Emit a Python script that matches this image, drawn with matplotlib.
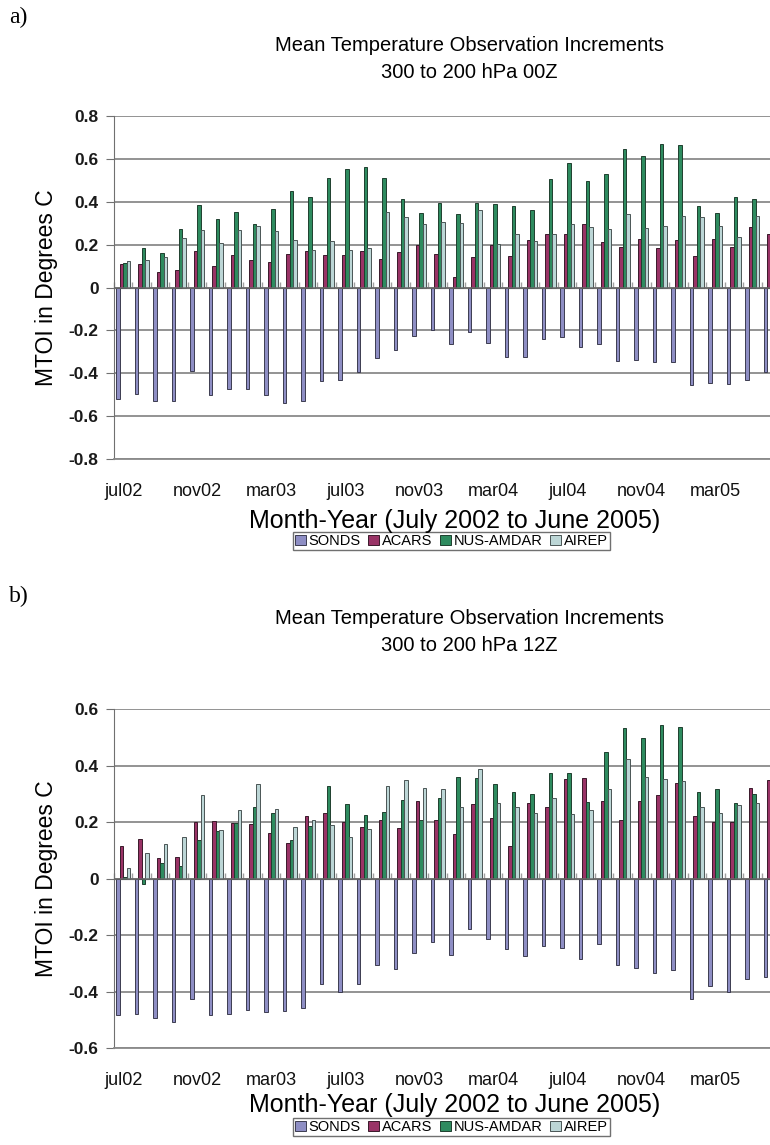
import matplotlib
matplotlib.use("Agg")
import matplotlib.pyplot as plt
import numpy as np

plt.rcParams['font.family'] = ['Liberation Sans', 'DejaVu Sans']

## Data (July 2002 .. June 2005)
months = ['jul02', 'aug02', 'sep02', 'oct02', 'nov02', 'dec02', 'jan03', 'feb03', 'mar03',
          'apr03', 'may03', 'jun03', 'jul03', 'aug03', 'sep03', 'oct03', 'nov03', 'dec03',
          'jan04', 'feb04', 'mar04', 'apr04', 'may04', 'jun04', 'jul04', 'aug04', 'sep04',
          'oct04', 'nov04', 'dec04', 'jan05', 'feb05', 'mar05', 'apr05', 'may05', 'jun05']
series = ['SONDS', 'ACARS', 'NUS-AMDAR', 'AIREP']

# panel a) 00Z
sonds_00 = [-0.52, -0.495, -0.53, -0.53, -0.388, -0.50, -0.473, -0.473, -0.50,
            -0.54, -0.53, -0.437, -0.43, -0.395, -0.33, -0.29, -0.228, -0.20,
            -0.264, -0.209, -0.257, -0.326, -0.326, -0.24, -0.231, -0.279, -0.264,
            -0.344, -0.336, -0.349, -0.349, -0.453, -0.445, -0.45, -0.433, -0.394]
acars_00 = [0.11, 0.108, 0.073, 0.08, 0.172, 0.098, 0.153, 0.127, 0.12,
            0.157, 0.169, 0.15, 0.153, 0.169, 0.132, 0.166, 0.197, 0.154,
            0.047, 0.14, 0.197, 0.147, 0.222, 0.251, 0.251, 0.296, 0.212,
            0.191, 0.228, 0.186, 0.222, 0.147, 0.228, 0.188, 0.284, 0.248]
amdar_00 = [0.116, 0.186, 0.16, 0.274, 0.385, 0.318, 0.352, 0.295, 0.366,
            0.451, 0.42, 0.509, 0.553, 0.563, 0.509, 0.414, 0.346, 0.395,
            0.343, 0.395, 0.388, 0.378, 0.361, 0.507, 0.58, 0.495, 0.529,
            0.647, 0.614, 0.667, 0.662, 0.38, 0.349, 0.42, 0.412, 0.465]
airep_00 = [0.122, 0.127, 0.14, 0.231, 0.268, 0.209, 0.268, 0.288, 0.265,
            0.222, 0.177, 0.217, 0.174, 0.183, 0.352, 0.327, 0.296, 0.305,
            0.299, 0.361, 0.205, 0.251, 0.219, 0.251, 0.296, 0.282, 0.274,
            0.341, 0.278, 0.285, 0.332, 0.329, 0.287, 0.237, 0.335, 0.33]

# panel b) 12Z
sonds_12 = [-0.484, -0.48, -0.492, -0.509, -0.425, -0.482, -0.48, -0.465, -0.474,
            -0.468, -0.459, -0.372, -0.401, -0.374, -0.306, -0.319, -0.265, -0.225,
            -0.272, -0.178, -0.215, -0.248, -0.274, -0.239, -0.245, -0.284, -0.233,
            -0.307, -0.315, -0.335, -0.325, -0.427, -0.38, -0.401, -0.354, -0.348]
acars_12 = [0.114, 0.14, 0.073, 0.078, 0.199, 0.204, 0.196, 0.193, 0.162,
            0.126, 0.22, 0.232, 0.202, 0.182, 0.206, 0.18, 0.276, 0.206,
            0.158, 0.265, 0.214, 0.116, 0.267, 0.252, 0.352, 0.355, 0.275,
            0.208, 0.275, 0.296, 0.34, 0.222, 0.20, 0.20, 0.322, 0.349]
amdar_12 = [0.005, -0.021, 0.055, 0.046, 0.138, 0.169, 0.196, 0.254, 0.232,
            0.135, 0.187, 0.328, 0.264, 0.226, 0.234, 0.278, 0.208, 0.286,
            0.359, 0.355, 0.334, 0.308, 0.298, 0.374, 0.374, 0.271, 0.447,
            0.534, 0.499, 0.542, 0.536, 0.305, 0.316, 0.267, 0.299, 0.367]
airep_12 = [0.038, 0.09, 0.122, 0.147, 0.295, 0.173, 0.244, 0.335, 0.248,
            0.181, 0.209, 0.191, 0.147, 0.175, 0.328, 0.349, 0.319, 0.316,
            0.252, 0.387, 0.267, 0.252, 0.232, 0.286, 0.229, 0.244, 0.318,
            0.422, 0.359, 0.353, 0.347, 0.252, 0.232, 0.261, 0.267, 0.33]

fills = ['#8e8ec4', '#993366', '#2e8b5f', '#bcd6d6']
edges = ['#3c3c50', '#3a1a2a', '#1f3f2f', '#4a5555']

fig = plt.figure(figsize=(7.7, 11.45), dpi=100)


def panel(rect, data, lim, ticks, title, tag, tag_y, title_y, lab_y, leg_y):
    ax = fig.add_axes(rect)
    x = np.arange(len(months))
    w = 0.19
    for k, vals in enumerate(data):
        ax.bar(x + (k - 1.5) * w, vals, w, color=fills[k], edgecolor=edges[k],
               linewidth=0.7, label=series[k], zorder=3)
    ax.set_xlim(-0.5, len(months) - 0.5)
    ax.set_ylim(-lim, lim)
    ax.set_yticks(ticks)
    ax.set_yticklabels(['%.1f' % t if t != 0 else '0' for t in ticks],
                       fontsize=12.5, fontweight='bold', color='#1a1a1a')
    ax.grid(axis='y', color='#8a8a8a', linewidth=1.3, zorder=0)
    for s in ['top', 'right']:
        ax.spines[s].set_visible(False)
    ax.spines['left'].set_color('#707070')
    ax.spines['bottom'].set_color('#8a8a8a')
    ax.spines['bottom'].set_linewidth(1.3)
    ax.tick_params(axis='y', direction='out', length=6, color='#707070', pad=5)
    ax.set_xticks(x[::4])
    ax.set_xticklabels(months[::4], fontsize=13, color='#111111')
    ax.tick_params(axis='x', length=0, pad=17)
    ax.axhline(0, color='#6a6a6a', linewidth=1.1, zorder=4)
    # category tick marks on the zero line
    sec = ax.secondary_xaxis(0.5)
    sec.set_xticks(np.arange(len(months) + 1) - 0.5)
    sec.set_xticklabels([])
    sec.tick_params(direction='out', length=4, color='#a0a0a0', width=1)
    sec.spines['bottom'].set_visible(False)
    ax.set_ylabel('MTOI in Degrees C', fontsize=16.5, labelpad=8)
    fig.text(0.61, title_y, title, ha='center', va='center', fontsize=14.5,
             linespacing=1.5)
    fig.text(0.012, tag_y, tag, ha='left', va='top', fontsize=17,
             family='Liberation Serif')
    fig.text(0.591, lab_y, 'Month-Year (July 2002 to June 2005)', ha='center',
             va='center', fontsize=18)
    ax.legend(loc='center', bbox_to_anchor=(0.586, leg_y),
              bbox_transform=fig.transFigure, ncol=4, fontsize=10.5,
              handlelength=0.75, handleheight=0.75, handletextpad=0.2,
              columnspacing=0.5, borderpad=0.15, fancybox=False,
              edgecolor='#707070', framealpha=1)
    return ax


panel([0.148, 0.599, 0.865, 0.2998], [sonds_00, acars_00, amdar_00, airep_00],
      0.8, np.arange(-0.8, 0.81, 0.2).round(1),
      'Mean Temperature Observation Increments\n300 to 200 hPa 00Z',
      'a)', 0.994, 0.9485, 0.545, 0.5275)
panel([0.148, 0.0847, 0.865, 0.296], [sonds_12, acars_12, amdar_12, airep_12],
      0.6, np.arange(-0.6, 0.61, 0.2).round(1),
      'Mean Temperature Observation Increments\n300 to 200 hPa 12Z',
      'b)', 0.488, 0.448, 0.0349, 0.0157)

fig.savefig('out.png', dpi=100)
